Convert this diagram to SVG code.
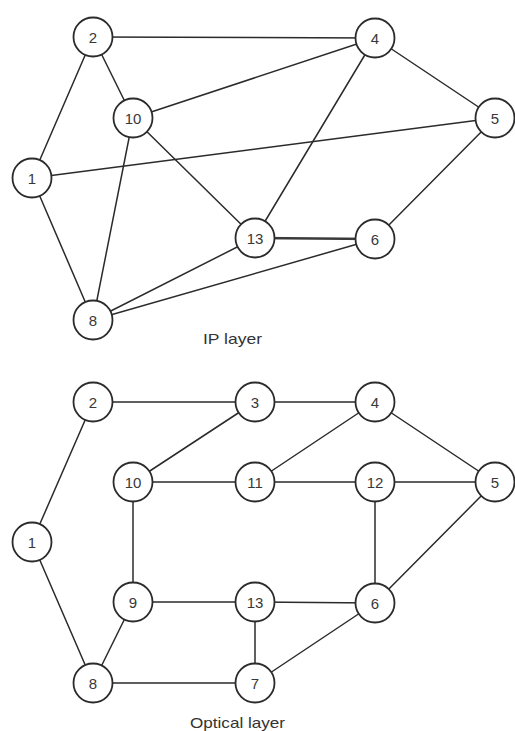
<svg xmlns="http://www.w3.org/2000/svg" width="515" height="731" viewBox="0 0 515 731">
  <style>
    .edge { stroke: #2b2b2b; stroke-width: 1.5; fill: none; stroke-linecap: round; }
    .edge.heavy { stroke-width: 2.6; stroke: #3a3a3a; }
    .node circle { fill: #ffffff; stroke: #2b2b2b; stroke-width: 1.8; }
    .node text { font-family: "Liberation Sans", Arial, sans-serif; font-size: 15px; fill: #383838; text-anchor: middle; dominant-baseline: central; }
    .caption { font-family: "Liberation Sans", Arial, sans-serif; font-size: 15px; fill: #333333; }
  </style>
  <rect width="515" height="731" fill="#ffffff"/>

  <!-- IP layer links -->
  <g id="ip-edges">
    <line class="edge" x1="93" y1="37" x2="375" y2="38"/>
    <line class="edge" x1="93" y1="37" x2="133" y2="118"/>
    <line class="edge" x1="93" y1="37" x2="32" y2="178"/>
    <line class="edge" x1="133" y1="118" x2="375" y2="38"/>
    <line class="edge" x1="133" y1="118" x2="93" y2="320"/>
    <line class="edge" x1="133" y1="118" x2="255" y2="238"/>
    <line class="edge" x1="32" y1="178" x2="495" y2="118"/>
    <line class="edge" x1="32" y1="178" x2="93" y2="320"/>
    <line class="edge" x1="375" y1="38" x2="495" y2="118"/>
    <line class="edge" x1="375" y1="38" x2="255" y2="238"/>
    <line class="edge" x1="495" y1="118" x2="375" y2="239"/>
    <line class="edge heavy" x1="255" y1="238" x2="375" y2="239"/>
    <line class="edge" x1="93" y1="320" x2="255" y2="238"/>
    <line class="edge" x1="93" y1="320" x2="375" y2="239"/>
  </g>

  <!-- IP layer routers -->
  <g id="ip-1" class="node"><circle cx="32" cy="178" r="19.5"/><text x="32" y="178">1</text></g>
  <g id="ip-2" class="node"><circle cx="93" cy="37" r="19.5"/><text x="93" y="37">2</text></g>
  <g id="ip-4" class="node"><circle cx="375" cy="38" r="19.5"/><text x="375" y="38">4</text></g>
  <g id="ip-5" class="node"><circle cx="495" cy="118" r="19.5"/><text x="495" y="118">5</text></g>
  <g id="ip-6" class="node"><circle cx="375" cy="239" r="19.5"/><text x="375" y="239">6</text></g>
  <g id="ip-8" class="node"><circle cx="93" cy="320" r="19.5"/><text x="93" y="320">8</text></g>
  <g id="ip-10" class="node"><circle cx="133" cy="118" r="19.5"/><text x="133" y="118">10</text></g>
  <g id="ip-13" class="node"><circle cx="255" cy="238" r="19.5"/><text x="255" y="238">13</text></g>

  <text id="ip-caption" class="caption" x="203" y="344" textLength="59" lengthAdjust="spacingAndGlyphs">IP layer</text>

  <!-- Optical layer links -->
  <g id="optical-edges">
    <line class="edge" x1="93" y1="402" x2="255" y2="402"/>
    <line class="edge" x1="93" y1="402" x2="32" y2="542"/>
    <line class="edge" x1="255" y1="402" x2="375" y2="402"/>
    <line class="edge" x1="255" y1="402" x2="133" y2="482"/>
    <line class="edge" x1="375" y1="402" x2="255" y2="482"/>
    <line class="edge" x1="375" y1="402" x2="495" y2="482"/>
    <line class="edge" x1="133" y1="482" x2="255" y2="482"/>
    <line class="edge" x1="133" y1="482" x2="133" y2="602"/>
    <line class="edge" x1="255" y1="482" x2="375" y2="482"/>
    <line class="edge" x1="375" y1="482" x2="495" y2="482"/>
    <line class="edge" x1="375" y1="482" x2="375" y2="603"/>
    <line class="edge" x1="495" y1="482" x2="375" y2="603"/>
    <line class="edge" x1="32" y1="542" x2="93" y2="683"/>
    <line class="edge" x1="133" y1="602" x2="255" y2="602"/>
    <line class="edge" x1="133" y1="602" x2="93" y2="683"/>
    <line class="edge" x1="255" y1="602" x2="375" y2="603"/>
    <line class="edge" x1="255" y1="602" x2="255" y2="683"/>
    <line class="edge" x1="93" y1="683" x2="255" y2="683"/>
    <line class="edge" x1="255" y1="683" x2="375" y2="603"/>
  </g>

  <!-- Optical layer switches -->
  <g id="opt-1" class="node"><circle cx="32" cy="542" r="19.5"/><text x="32" y="542">1</text></g>
  <g id="opt-2" class="node"><circle cx="93" cy="402" r="19.5"/><text x="93" y="402">2</text></g>
  <g id="opt-3" class="node"><circle cx="255" cy="402" r="19.5"/><text x="255" y="402">3</text></g>
  <g id="opt-4" class="node"><circle cx="375" cy="402" r="19.5"/><text x="375" y="402">4</text></g>
  <g id="opt-5" class="node"><circle cx="495" cy="482" r="19.5"/><text x="495" y="482">5</text></g>
  <g id="opt-6" class="node"><circle cx="375" cy="603" r="19.5"/><text x="375" y="603">6</text></g>
  <g id="opt-7" class="node"><circle cx="255" cy="683" r="19.5"/><text x="255" y="683">7</text></g>
  <g id="opt-8" class="node"><circle cx="93" cy="683" r="19.5"/><text x="93" y="683">8</text></g>
  <g id="opt-9" class="node"><circle cx="133" cy="602" r="19.5"/><text x="133" y="602">9</text></g>
  <g id="opt-10" class="node"><circle cx="133" cy="482" r="19.5"/><text x="133" y="482">10</text></g>
  <g id="opt-11" class="node"><circle cx="255" cy="482" r="19.5"/><text x="255" y="482">11</text></g>
  <g id="opt-12" class="node"><circle cx="375" cy="482" r="19.5"/><text x="375" y="482">12</text></g>
  <g id="opt-13" class="node"><circle cx="255" cy="602" r="19.5"/><text x="255" y="602">13</text></g>

  <text id="optical-caption" class="caption" x="190" y="728" textLength="95" lengthAdjust="spacingAndGlyphs">Optical layer</text>
</svg>
